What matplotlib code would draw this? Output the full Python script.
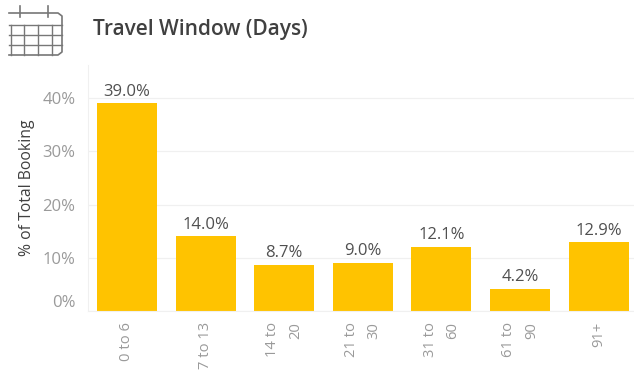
import matplotlib
matplotlib.use('Agg')
import matplotlib.pyplot as plt
from matplotlib.lines import Line2D
from matplotlib.transforms import ScaledTranslation

plt.rcParams['font.family'] = ['Open Sans', 'DejaVu Sans']

# Booking share per travel window
categories = ['0 to 6', '7 to 13', '14 to\n20', '21 to\n30', '31 to\n60', '61 to\n90', '91+']
share = [39.0, 14.0, 8.7, 9.0, 12.1, 4.2, 12.9]
y_ticks = [0, 10, 20, 30, 40]

W, H = 634, 373
BAR_COLOR = '#FFC300'
GRID_COLOR = '#F0F0F0'
TICK_COLOR = '#9A9A9A'
TEXT_COLOR = '#505050'

fig = plt.figure(figsize=(W / 100, H / 100), dpi=100)

# Axes placed in pixel terms: left 88, right 634, top 65, baseline 311
ax = fig.add_axes([88 / W, 1 - 311 / H, 546 / W, 246 / H])

x = range(len(categories))
ax.bar(x, share, width=0.763, color=BAR_COLOR)
ax.set_xlim(-0.496, 6.45)
ax.set_ylim(0, 46.2)

for i, v in zip(x, share):
    ax.text(i, v + 0.7, f'{v:.1f}%', ha='center', va='bottom', fontsize=12, color=TEXT_COLOR)

ax.set_yticks(y_ticks)
ax.set_yticklabels([f'{t}%' for t in y_ticks], fontsize=12, color=TICK_COLOR)
ax.set_ylabel('% of Total Booking', fontsize=11.3, color='#404040', labelpad=5)
ax.tick_params(axis='y', length=0, pad=9)
ax.grid(axis='y', color=GRID_COLOR, linewidth=0.9)
ax.set_axisbelow(True)

# The 0% label sits above the baseline, clear of the category labels
zero_label = ax.get_yticklabels()[0]
zero_label.set_transform(zero_label.get_transform() + ScaledTranslation(0, 10 / 100, fig.dpi_scale_trans))

ax.set_xticks(list(x))
ax.set_xticklabels(categories, rotation=90, fontsize=10.6, color=TICK_COLOR,
                   multialignment='right', va='top', ha='center', linespacing=1.7)
ax.tick_params(axis='x', length=0, pad=8)

for side in ['top', 'right']:
    ax.spines[side].set_visible(False)
ax.spines['left'].set_color(GRID_COLOR)
ax.spines['bottom'].set_color(GRID_COLOR)

fig.text(93 / W, 1 - 29 / H, 'Travel Window (Days)', fontsize=15, fontweight='semibold',
         color='#404040', va='center', ha='left')


# Calendar icon in the header, drawn in pixel coordinates
def px_line(xs, ys, lw=1.0):
    fig.add_artist(Line2D([a / W for a in xs], [1 - b / H for b in ys],
                          color='#777777', linewidth=lw))


px_line([9, 58, 62, 62, 58, 9], [13, 13, 16, 52, 55, 55], lw=1.2)
for yy in [25, 35, 45]:
    px_line([9, 62], [yy, yy])
for xx in [11, 24, 38, 52]:
    px_line([xx, xx], [25, 55])
for xx in [20, 48]:
    px_line([xx, xx], [6, 17], lw=1.2)

fig.savefig('out.png', dpi=100)
